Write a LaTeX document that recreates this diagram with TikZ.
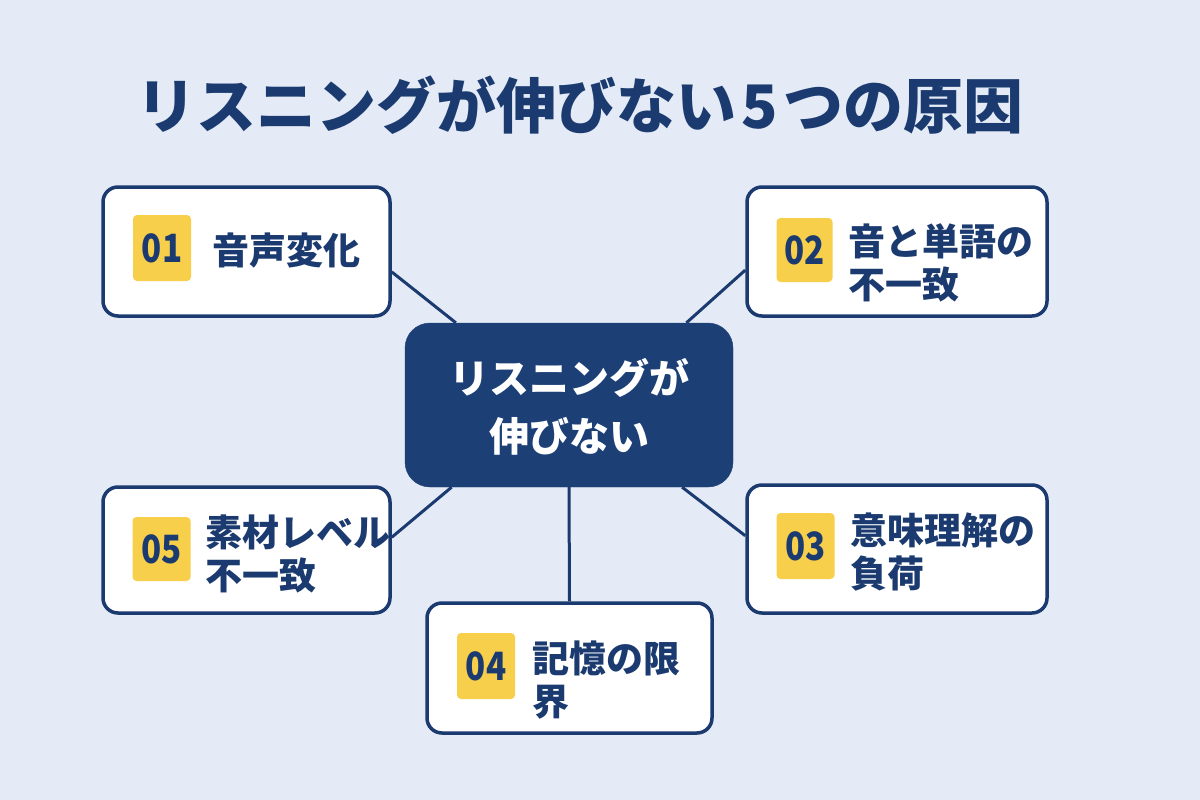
\documentclass[tikz,border=0pt]{standalone}
\usepackage{fontspec}
\setmainfont{Noto Sans CJK JP}
\definecolor{bg}{HTML}{E4EBF6}
\definecolor{navy}{HTML}{1B3B70}
\definecolor{cfill}{HTML}{1C3F76}
\definecolor{badgey}{HTML}{F8CF4B}
\tikzset{
  card/.style={draw=navy, line width=3.5pt, fill=white, rounded corners=15pt, inner sep=0pt},
  badge/.style={fill=badgey, rounded corners=4pt, minimum width=58pt, minimum height=66pt, inner sep=0pt, text=navy, font=\bfseries\fontsize{39}{39}\selectfont\addfontfeature{FakeStretch=0.85}},
  ctext/.style={anchor=west, align=left, text=navy, inner sep=0pt, font=\bfseries\fontsize{37}{43}\selectfont},
  link/.style={draw=navy, line width=3pt}
}
\begin{document}
\begin{tikzpicture}[x=1pt,y=-1pt]
\fill[bg] (0,0) rectangle (1200,800);
\useasboundingbox (0,0) rectangle (1200,800);
\node[text=navy, font=\bfseries\fontsize{60}{60}\selectfont, inner sep=0pt] (title) at (580,105) {リスニングが伸びない\hspace{5pt}5\hspace{5pt}つの原因};
% center
\node[fill=cfill, draw=cfill, rounded corners=25pt, minimum width=328pt, minimum height=164pt, inner sep=0pt] (c) at (569,405) {};
\node[text=white, align=center, inner sep=0pt, font=\bfseries\fontsize{40}{58}\selectfont] (ct) at (569,407) {リスニングが\\伸びない};
% cards
\node[card, minimum width=287pt, minimum height=129pt] (b1) at (246.5,251.5) {};
\node[card, minimum width=300pt, minimum height=129pt] (b2) at (897,251.5) {};
\node[card, minimum width=300pt, minimum height=128pt] (b3) at (897,549) {};
\node[card, minimum width=285pt, minimum height=130pt] (b4) at (569.5,668) {};
\node[card, minimum width=287pt, minimum height=126pt] (b5) at (246.5,550) {};
% badges
\node[badge] (n1) at (162,248) {01};
\node[badge, minimum width=56pt, minimum height=64pt] (n2) at (804.5,250) {02};
\node[badge] (n3) at (805.5,546) {03};
\node[badge] (n4) at (486,666) {04};
\node[badge, minimum width=58pt, minimum height=64pt] (n5) at (161.5,549) {05};
% texts
\node[ctext] (t1) at (212,251) {音声変化};
\node[ctext] (t2) at (848,263) {音と単語の\\不一致};
\node[ctext] (t3) at (850,552) {意味理解の\\負荷};
\node[ctext] (t4) at (532,680) {記憶の限\\界};
\node[ctext] (t5) at (205,554) {素材レベル\\不一致};
% connectors
\draw[link] (b1.-8) -- (c.144.3);
\draw[link] (b2.187.8) -- (c.35.3);
\draw[link] (b5.5.2) -- (c.215.7);
\draw[link] (b3.175.8) -- (c.324.7);
\draw[link] (c.south) -- (b4.north);
\end{tikzpicture}
\end{document}
